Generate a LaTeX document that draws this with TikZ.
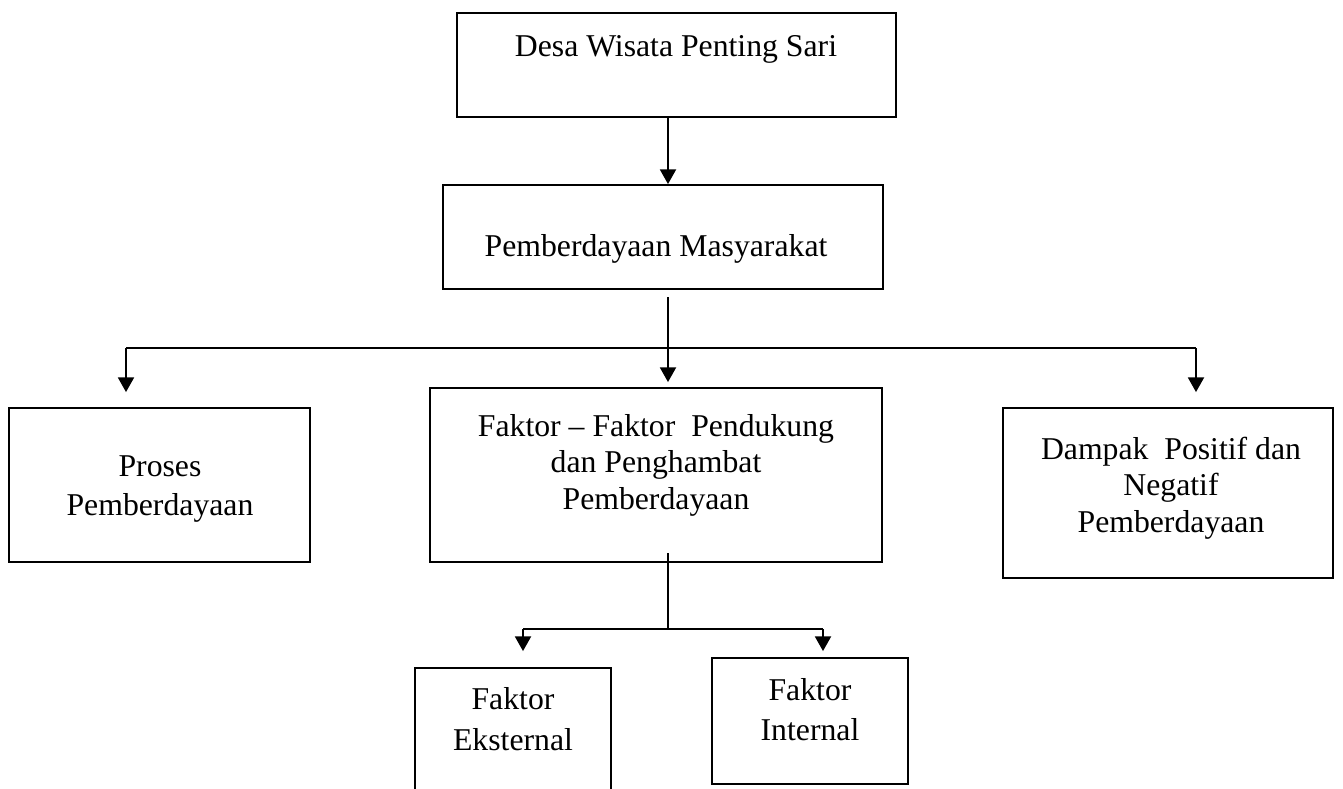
\documentclass[tikz,border=0pt]{standalone}
\usepackage{fontspec}
\setmainfont{Liberation Serif}
\usetikzlibrary{arrows.meta,calc}
\newcommand{\mlines}[2]{\renewcommand{\arraystretch}{#1}\begin{tabular}[t]{@{}c@{}}#2\end{tabular}}
\tikzset{
  box/.style={draw, line width=1.4pt, inner sep=0pt, fill=none},
  sz/.style 2 args={minimum width=#1*0.75pt, minimum height=#2*0.75pt},
  txt/.style={font=\fontsize{23.8}{27.4}\selectfont, inner sep=0pt, anchor=base},
  conn/.style={line width=1.4pt},
  arr/.style={line width=1.4pt, -{Triangle[length=11pt,width=12pt]}}
}
\begin{document}
\begin{tikzpicture}[x=0.75pt,y=-0.75pt]
\clip (0,0) rectangle (1343,789);
\fill[white] (0,0) rectangle (1343,789);
% boxes
\node[box, sz={439}{104}] (top) at (676.5,65) {};
\node[box, sz={440}{104}] (pm) at (663,237) {};
\node[box, sz={301}{154}] (proses) at (159.5,485) {};
\node[box, sz={452}{174}] (fk) at (656,475) {};
\node[box, sz={330}{170}] (dampak) at (1168,493) {};
\node[box, sz={196}{150}] (eks) at (513,743) {};
\node[box, sz={196}{126}] (int) at (810,721) {};
% texts
\node[txt] (topt) at (676,56) {Desa Wisata Penting Sari};
\node[txt] (pmt) at (656,256) {Pemberdayaan Masyarakat};
\node[txt] (prosest) at (160,476) {\mlines{1.09}{Proses\\Pemberdayaan}};
\node[txt] (fkt) at (656,436) {\mlines{1.0}{Faktor – Faktor\enspace Pendukung\\dan Penghambat\\Pemberdayaan}};
\node[txt] (dampakt) at (1171,459) {\mlines{1.0}{Dampak\enspace Positif dan\\Negatif\\Pemberdayaan}};
\node[txt] (ekst) at (513,709) {\mlines{1.14}{Faktor\\Eksternal}};
\node[txt] (intt) at (810,700) {\mlines{1.10}{Faktor\\Internal}};
% connector coordinates
\coordinate (spine) at (668,0);
\coordinate (s1) at (668,297);
\coordinate (hl) at (126,348);
\coordinate (hr) at (1196,348);
\coordinate (b0) at (668,553);
\coordinate (bm) at (668,629);
\coordinate (bl) at (523,629);
\coordinate (br) at (823,629);
% connectors
\draw[arr] (top.south -| spine) -- (pm.north -| spine);
\draw[arr, shorten >=5*0.75pt] (s1) -- (fk.north -| s1);
\draw[conn] (hl) -- (hr);
\draw[arr, shorten >=15*0.75pt] (hl) -- (hl |- proses.north);
\draw[arr, shorten >=15*0.75pt] (hr) -- (hr |- dampak.north);
\draw[conn] (b0) -- (bm);
\draw[conn] (bl) -- (br);
\draw[arr, shorten >=16*0.75pt] (bl) -- (bl |- eks.north);
\draw[arr, shorten >=6*0.75pt] (br) -- (br |- int.north);
\end{tikzpicture}
\end{document}
